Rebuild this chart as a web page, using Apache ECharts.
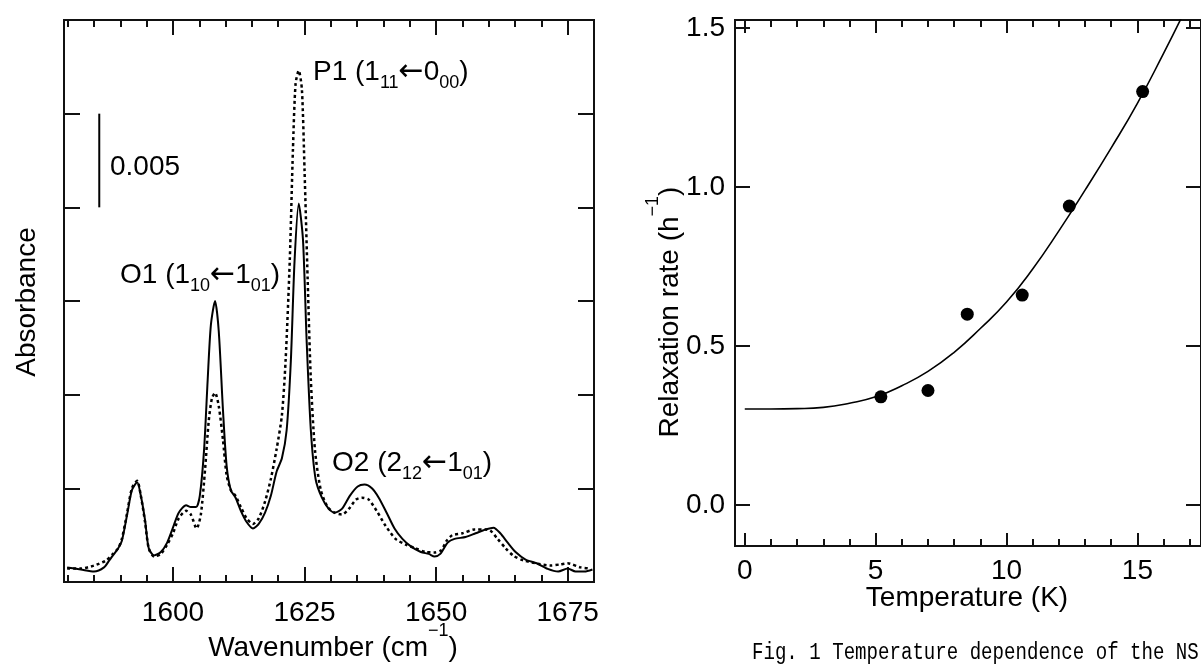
<!DOCTYPE html>
<html><head><meta charset="utf-8">
<script src="https://cdn.jsdelivr.net/npm/echarts@6/dist/echarts.min.js"></script>
<style>html,body{margin:0;padding:0;background:#fff}#c{width:1201px;height:666px}</style>
</head><body><div id="c"></div>
<script>
// ---- Left panel: IR spectrum (wavenumber cm^-1, absorbance) ----
const solidSpectrum = [[1579.9,0.00078],[1582.5,0.00067],[1585.0,0.00056],[1586.9,0.00078],[1587.9,0.00115],[1588.6,0.00142],[1589.6,0.0018],[1590.3,0.0022],[1591.3,0.0036],[1592.2,0.0049],[1593.2,0.00532],[1593.9,0.0046],[1594.7,0.0033],[1595.4,0.0018],[1596.4,0.00142],[1597.7,0.0016],[1598.9,0.0021],[1600.0,0.0029],[1601.1,0.0037],[1602.5,0.0041],[1603.4,0.0040],[1604.4,0.0040],[1605.1,0.0046],[1605.9,0.0070],[1606.6,0.0108],[1607.2,0.0137],[1608.0,0.0150],[1608.7,0.0134],[1609.5,0.0092],[1610.2,0.0062],[1611.0,0.0049],[1611.9,0.0045],[1612.9,0.0038],[1614.0,0.0032],[1615.2,0.00286],[1616.3,0.0031],[1617.5,0.0037],[1618.6,0.0046],[1619.7,0.0059],[1620.7,0.0066],[1621.6,0.0081],[1622.4,0.0118],[1623.1,0.0171],[1623.9,0.0202],[1624.7,0.0183],[1625.4,0.0129],[1626.2,0.0081],[1627.1,0.0055],[1628.3,0.0045],[1629.6,0.0039],[1630.7,0.0037],[1632.1,0.0039],[1633.6,0.0046],[1635.1,0.0051],[1636.4,0.0052],[1637.8,0.0050],[1639.1,0.0045],[1640.6,0.0037],[1642.1,0.00286],[1643.6,0.0023],[1645.2,0.0019],[1647.1,0.0016],[1648.6,0.0015],[1649.7,0.00136],[1650.8,0.0015],[1652.2,0.0021],[1653.5,0.0023],[1655.6,0.0024],[1657.5,0.0026],[1659.4,0.0028],[1660.9,0.0029],[1662.2,0.0026],[1663.6,0.0021],[1665.1,0.0016],[1667.0,0.0012],[1669.1,0.0010],[1671.2,0.0007],[1673.2,0.00056],[1675.0,0.00072],[1676.5,0.00056],[1678.2,0.00056],[1679.7,0.00067]];
const dottedSpectrum = [[1579.9,0.00072],[1582.5,0.00072],[1585.0,0.00088],[1587.3,0.00115],[1588.6,0.0015],[1589.6,0.0018],[1590.3,0.0023],[1591.3,0.0037],[1592.2,0.0050],[1593.2,0.0054],[1593.9,0.0046],[1594.7,0.0032],[1595.4,0.0018],[1596.4,0.00136],[1597.7,0.0015],[1598.9,0.0020],[1600.0,0.0026],[1601.1,0.0034],[1602.5,0.0038],[1603.4,0.0036],[1604.5,0.00286],[1605.3,0.0036],[1606.1,0.0060],[1606.8,0.0086],[1607.4,0.0098],[1608.0,0.0101],[1608.7,0.0094],[1609.5,0.0076],[1610.2,0.0057],[1611.0,0.0049],[1611.9,0.0046],[1612.9,0.0040],[1614.0,0.0034],[1615.2,0.0031],[1616.3,0.0034],[1617.5,0.0043],[1618.6,0.0055],[1619.7,0.0071],[1620.7,0.0089],[1621.4,0.0118],[1622.2,0.0172],[1622.8,0.0231],[1623.3,0.0266],[1623.9,0.0273],[1624.5,0.0263],[1625.0,0.0220],[1625.6,0.0161],[1626.2,0.0108],[1627.0,0.0070],[1628.1,0.0049],[1629.4,0.0040],[1630.7,0.0037],[1632.1,0.0036],[1633.4,0.0039],[1634.8,0.0044],[1635.9,0.0045],[1637.2,0.0044],[1638.7,0.0038],[1640.4,0.0030],[1642.3,0.0023],[1644.2,0.0020],[1646.1,0.0018],[1648.0,0.0016],[1649.7,0.00158],[1651.0,0.0017],[1652.0,0.0022],[1653.1,0.0025],[1655.0,0.0026],[1657.3,0.0028],[1659.4,0.0028],[1660.3,0.00275],[1661.7,0.0023],[1663.2,0.0018],[1664.7,0.0014],[1666.6,0.00115],[1668.9,0.0010],[1671.7,0.00088],[1673.6,0.00094],[1675.0,0.0010],[1677.4,0.00078],[1679.3,0.00072]];
const scaleBar = [[1586.0,0.020],[1586.0,0.025]];
const wnMajorTicks = [1600,1625,1650,1675];
const wnMinorTicks = [1580,1585,1590,1595,1600,1605,1610,1615,1620,1625,1630,1635,1640,1645,1650,1655,1660,1665,1670,1675,1680];

// ---- Right panel: relaxation rate vs temperature ----
const temperature = [5.2, 7.0, 8.5, 10.6, 12.4, 15.2];
const relaxRate   = [0.34, 0.36, 0.60, 0.66, 0.94, 1.30];
const fitTemperature = [0,1,2,3,4,5,6,7,8,9,10,11,12,13,14,15,16,16.7];
const fitRate        = [0.302,0.302,0.303,0.307,0.32,0.34,0.375,0.42,0.48,0.555,0.638,0.742,0.862,0.99,1.123,1.263,1.42,1.535];
const tMajorTicks = [0,5,10,15];
const tMinorTicks = [0,1,2,3,4,5,6,7,8,9,10,11,12,13,14,15,16,17];
const rateTicks = [0,0.5,1.0,1.5];

const FONT = '"Liberation Sans", Arial, sans-serif';
const chart = echarts.init(document.getElementById('c'), null, {renderer:'canvas'});

function xAx(grid, pos, min, max, ticks, len, labels, margin) {
  return {
    type:'value', gridIndex:grid, position:pos, min:min, max:max,
    axisLine:{show:false, onZero:false}, splitLine:{show:false},
    axisTick:{show:true, inside:true, length:len, customValues:ticks, lineStyle:{color:'#111', width:2}},
    axisLabel: labels ? {show:true, customValues:ticks, formatter:v=>String(v), fontSize:28, fontFamily:FONT, color:'#000', margin:margin}
                      : {show:false}
  };
}
function yAx(grid, pos, min, max, ticks, len, labels) {
  return {
    type:'value', gridIndex:grid, position:pos, min:min, max:max,
    axisLine:{show:false, onZero:false}, splitLine:{show:false},
    axisTick:{show:true, inside:true, length:len, customValues:ticks, lineStyle:{color:'#111', width:2}},
    axisLabel: labels ? {show:true, customValues:ticks, formatter:v=>v.toFixed(1), fontSize:28, fontFamily:FONT, color:'#000', margin:10}
                      : {show:false}
  };
}
const absTicks = [0,0.005,0.01,0.015,0.02,0.025,0.03];

const option = {
  animation:false,
  backgroundColor:'#fff',
  grid:[
    {left:64, top:20, width:530, height:562, show:true, borderColor:'#111', borderWidth:2, backgroundColor:'transparent'},
    {left:735, top:20, width:477, height:526, show:true, borderColor:'#111', borderWidth:2, backgroundColor:'transparent'}
  ],
  xAxis:[
    xAx(0,'bottom',1579.3,1680,wnMajorTicks,15,true,17),
    xAx(0,'bottom',1579.3,1680,wnMinorTicks,7,false),
    xAx(0,'top',1579.3,1680,wnMajorTicks,15,false),
    xAx(0,'top',1579.3,1680,wnMinorTicks,7,false),
    xAx(1,'bottom',-0.373,17.43,tMajorTicks,13,true,11),
    xAx(1,'bottom',-0.373,17.43,tMinorTicks,7,false),
    xAx(1,'top',-0.373,17.43,tMajorTicks,13,false),
    xAx(1,'top',-0.373,17.43,tMinorTicks,7,false)
  ],
  yAxis:[
    yAx(0,'left',0,0.03,absTicks,16,false),
    yAx(0,'right',0,0.03,absTicks,16,false),
    yAx(1,'left',-0.129,1.525,rateTicks,15,true),
    yAx(1,'right',-0.129,1.525,rateTicks,15,false)
  ],
  series:[
    {type:'line', xAxisIndex:0, yAxisIndex:0, data:dottedSpectrum, showSymbol:false, smooth:0.25,
     lineStyle:{color:'#000', width:2.5, type:[3,3]}},
    {type:'line', xAxisIndex:0, yAxisIndex:0, data:solidSpectrum, showSymbol:false, smooth:0.25,
     lineStyle:{color:'#000', width:2}},
    {type:'line', xAxisIndex:0, yAxisIndex:0, data:scaleBar, showSymbol:false,
     lineStyle:{color:'#000', width:2}},
    {type:'line', xAxisIndex:4, yAxisIndex:2, data:fitTemperature.map((t,i)=>[t,fitRate[i]]), showSymbol:false, smooth:0.5,
     lineStyle:{color:'#000', width:1.6}},
    {type:'scatter', xAxisIndex:4, yAxisIndex:2, data:temperature.map((t,i)=>[t,relaxRate[i]]), symbolSize:13,
     itemStyle:{color:'#000', opacity:1}}
  ],
  graphic:[
    {type:'text', x:27, y:302, rotation:Math.PI/2, style:{text:'Absorbance', font:'28px '+FONT, fill:'#000', align:'center', verticalAlign:'middle'}},
    {type:'text', x:333, y:648, style:{text:'{a|Wavenumber (cm}{s|−1}{a|)}', align:'center', verticalAlign:'middle',
      rich:{a:{fontSize:28, fontFamily:FONT, lineHeight:52, verticalAlign:'middle', fill:'#000'}, s:{fontSize:18, fontFamily:FONT, lineHeight:18, verticalAlign:'top', fill:'#000'}}}},
    {type:'text', x:110, y:167, style:{text:'0.005', font:'28px '+FONT, fill:'#000', align:'left', verticalAlign:'middle'}},
    {type:'text', x:120, y:275, style:{text:'{a|O1 (1}{b|10}{r|←}{a|1}{b|01}{a|)}', align:'left', verticalAlign:'middle',
      rich:{a:{fontSize:28,fontFamily:FONT,lineHeight:40,verticalAlign:'middle',fill:'#000'}, b:{fontSize:18,fontFamily:FONT,lineHeight:22,verticalAlign:'bottom',fill:'#000'}, r:{fontSize:30,fontFamily:'"DejaVu Sans"',lineHeight:40,verticalAlign:'middle',fill:'#000'}}}},
    {type:'text', x:313, y:72, style:{text:'{a|P1 (1}{b|11}{r|←}{a|0}{b|00}{a|)}', align:'left', verticalAlign:'middle',
      rich:{a:{fontSize:28,fontFamily:FONT,lineHeight:40,verticalAlign:'middle',fill:'#000'}, b:{fontSize:18,fontFamily:FONT,lineHeight:22,verticalAlign:'bottom',fill:'#000'}, r:{fontSize:30,fontFamily:'"DejaVu Sans"',lineHeight:40,verticalAlign:'middle',fill:'#000'}}}},
    {type:'text', x:332, y:463, style:{text:'{a|O2 (2}{b|12}{r|←}{a|1}{b|01}{a|)}', align:'left', verticalAlign:'middle',
      rich:{a:{fontSize:28,fontFamily:FONT,lineHeight:40,verticalAlign:'middle',fill:'#000'}, b:{fontSize:18,fontFamily:FONT,lineHeight:22,verticalAlign:'bottom',fill:'#000'}, r:{fontSize:30,fontFamily:'"DejaVu Sans"',lineHeight:40,verticalAlign:'middle',fill:'#000'}}}},
    {type:'text', x:670, y:312, rotation:Math.PI/2, style:{text:'{a|Relaxation rate (h}{s|−1}{a|)}', align:'center', verticalAlign:'middle',
      rich:{a:{fontSize:28, fontFamily:FONT, lineHeight:52, verticalAlign:'middle', fill:'#000'}, s:{fontSize:18, fontFamily:FONT, lineHeight:18, verticalAlign:'top', fill:'#000'}}}},
    {type:'text', x:967, y:598, style:{text:'Temperature (K)', font:'28px '+FONT, fill:'#000', align:'center', verticalAlign:'middle'}},
    {type:'text', x:752, y:653, scaleX:0.83, style:{text:'Fig. 1 Temperature dependence of the NS', font:'23px "Liberation Mono", monospace', fill:'#000', align:'left', verticalAlign:'middle'}}
  ]
};
chart.setOption(option);
</script></body></html>
